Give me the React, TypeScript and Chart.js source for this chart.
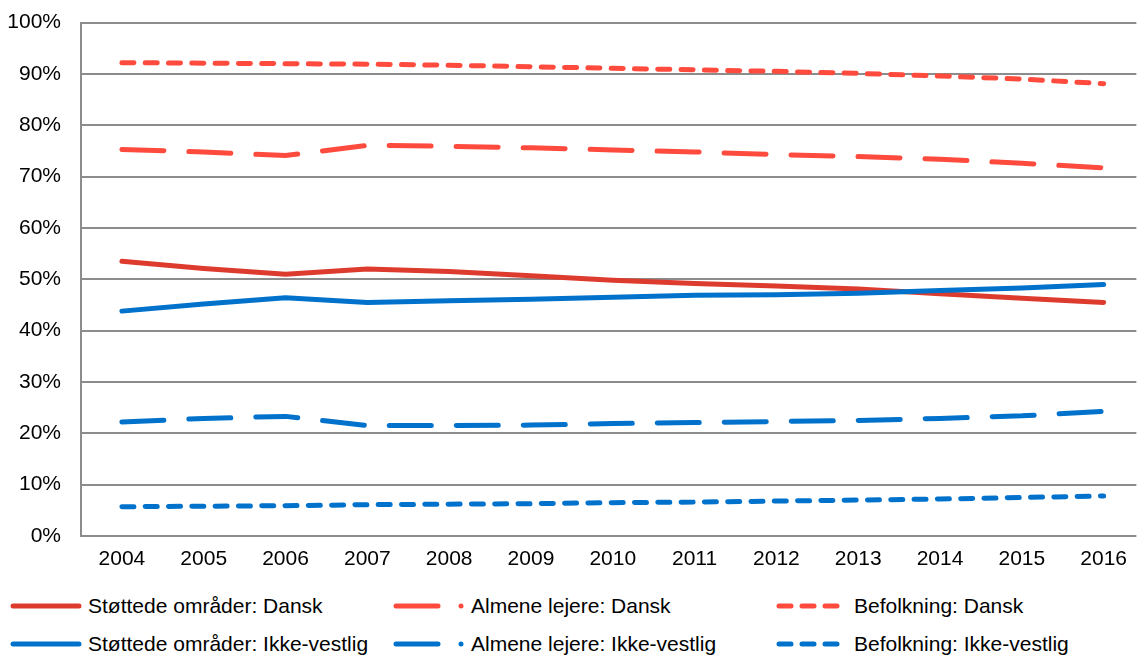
import React, { useEffect, useRef } from 'react';
import { Chart, registerables } from 'chart.js';

Chart.register(...registerables);

const years = [2004, 2005, 2006, 2007, 2008, 2009, 2010, 2011, 2012, 2013, 2014, 2015, 2016];

const stottedeDansk = [53.5, 52.1, 51.0, 52.0, 51.5, 50.7, 49.8, 49.2, 48.7, 48.1, 47.2, 46.3, 45.5];
const almeneDansk = [75.3, 74.8, 74.1, 76.1, 75.9, 75.6, 75.2, 74.8, 74.3, 73.9, 73.4, 72.6, 71.7];
const befolkningDansk = [92.2, 92.1, 92.0, 91.9, 91.7, 91.4, 91.1, 90.8, 90.5, 90.1, 89.6, 89.0, 88.1];
const stottedeIkkeVestlig = [43.8, 45.2, 46.4, 45.5, 45.8, 46.1, 46.5, 46.9, 47.0, 47.3, 47.8, 48.3, 49.0];
const almeneIkkeVestlig = [22.2, 22.9, 23.3, 21.5, 21.5, 21.6, 21.9, 22.1, 22.3, 22.5, 22.9, 23.4, 24.3];
const befolkningIkkeVestlig = [5.7, 5.8, 5.9, 6.1, 6.2, 6.3, 6.5, 6.6, 6.8, 7.0, 7.2, 7.5, 7.8];

const yTicks = [0, 10, 20, 30, 40, 50, 60, 70, 80, 90, 100];

const RED_SOLID = '#DE3B2F';
const RED_DASH = '#FF4B3E';
const BLUE = '#0072CC';
const GRID = '#8C8C8C';
const FONT = '"Liberation Sans", Arial, Helvetica, sans-serif';

const LONG_DASH = [42, 25];
const SHORT_DASH = [12, 11.3];

type Kind = 'solid' | 'long' | 'short';

const seriesDefs: { label: string; data: number[]; color: string; kind: Kind; order: number }[] = [
  { label: 'Støttede områder: Dansk', data: stottedeDansk, color: RED_SOLID, kind: 'solid', order: 2 },
  { label: 'Almene lejere: Dansk', data: almeneDansk, color: RED_DASH, kind: 'long', order: 3 },
  { label: 'Befolkning: Dansk', data: befolkningDansk, color: RED_DASH, kind: 'short', order: 4 },
  { label: 'Støttede områder: Ikke-vestlig', data: stottedeIkkeVestlig, color: BLUE, kind: 'solid', order: 1 },
  { label: 'Almene lejere: Ikke-vestlig', data: almeneIkkeVestlig, color: BLUE, kind: 'long', order: 5 },
  { label: 'Befolkning: Ikke-vestlig', data: befolkningIkkeVestlig, color: BLUE, kind: 'short', order: 6 },
];

function LegendSample({ kind, color }: { kind: Kind; color: string }) {
  const common = { stroke: color, strokeWidth: 5, strokeLinecap: 'round' as const };
  if (kind === 'solid') {
    return (
      <svg width={72} height={12} style={{ display: 'block' }}>
        <line x1={3} y1={6} x2={69} y2={6} {...common} />
      </svg>
    );
  }
  if (kind === 'long') {
    return (
      <svg width={72} height={12} style={{ display: 'block' }}>
        <line x1={3} y1={6} x2={45} y2={6} {...common} />
        <circle cx={68} cy={6} r={2.5} fill={color} />
      </svg>
    );
  }
  return (
    <svg width={72} height={12} style={{ display: 'block' }}>
      <line x1={3} y1={6} x2={15} y2={6} {...common} />
      <line x1={26} y1={6} x2={38} y2={6} {...common} />
      <line x1={49} y1={6} x2={61} y2={6} {...common} />
    </svg>
  );
}

const legendCols = [10, 393, 776];
const legendRows = [606, 644];

export default function App() {
  const canvasRef = useRef<HTMLCanvasElement | null>(null);

  useEffect(() => {
    const canvas = canvasRef.current;
    if (!canvas) return;
    const chart = new Chart(canvas, {
      type: 'line',
      data: {
        datasets: seriesDefs.map((s) => ({
          label: s.label,
          data: s.data.map((v, i) => ({ x: years[i], y: v })),
          borderColor: s.color,
          backgroundColor: s.color,
          borderWidth: 5,
          borderDash: s.kind === 'long' ? LONG_DASH : s.kind === 'short' ? SHORT_DASH : [],
          borderCapStyle: 'round',
          borderJoinStyle: 'round',
          pointRadius: 0,
          tension: 0,
          fill: false,
          order: s.order,
        })),
      },
      options: {
        responsive: false,
        animation: false,
        events: [],
        layout: { padding: { top: 12, right: 0, bottom: 0, left: 0 } },
        plugins: {
          legend: { display: false },
          tooltip: { enabled: false },
          title: { display: false },
        },
        scales: {
          x: {
            type: 'linear',
            min: 2003.5,
            max: 2016.4,
            afterBuildTicks: (scale: any) => {
              scale.ticks = years.map((y) => ({ value: y }));
            },
            afterFit: (scale: any) => {
              scale.height = 44;
            },
            grid: { display: false, drawTicks: false },
            border: { display: false },
            ticks: {
              autoSkip: false,
              maxRotation: 0,
              padding: 11,
              color: '#000',
              font: { family: FONT, size: 21 },
              callback: (v: any) => String(v),
            },
          },
          y: {
            type: 'linear',
            min: 0,
            max: 100,
            afterBuildTicks: (scale: any) => {
              scale.ticks = yTicks.map((v) => ({ value: v }));
            },
            afterFit: (scale: any) => {
              scale.width = 81;
            },
            grid: { color: GRID, lineWidth: 2, drawTicks: false },
            border: { display: true, color: GRID, width: 2 },
            ticks: {
              padding: 20,
              color: '#000',
              font: { family: FONT, size: 21 },
              callback: (v: any) => `${v}%`,
            },
          },
        },
      },
    } as any);
    return () => chart.destroy();
  }, []);

  return (
    <div style={{ position: 'absolute', left: 0, top: 0, width: 1138, height: 656, background: '#fff', fontFamily: FONT, overflow: 'hidden' }}>
      <canvas ref={canvasRef} width={1138} height={590} style={{ position: 'absolute', left: 0, top: -10 }} />
      {seriesDefs.map((s, i) => {
        const col = i % 3;
        const row = Math.floor(i / 3);
        return (
          <div
            key={s.label}
            style={{
              position: 'absolute',
              left: legendCols[col],
              top: legendRows[row] - 14,
              height: 28,
              display: 'flex',
              alignItems: 'center',
              whiteSpace: 'nowrap',
              fontSize: 21,
              color: '#000',
            }}
          >
            <LegendSample kind={s.kind} color={s.color} />
            <span style={{ marginLeft: 6 }}>{s.label}</span>
          </div>
        );
      })}
    </div>
  );
}
